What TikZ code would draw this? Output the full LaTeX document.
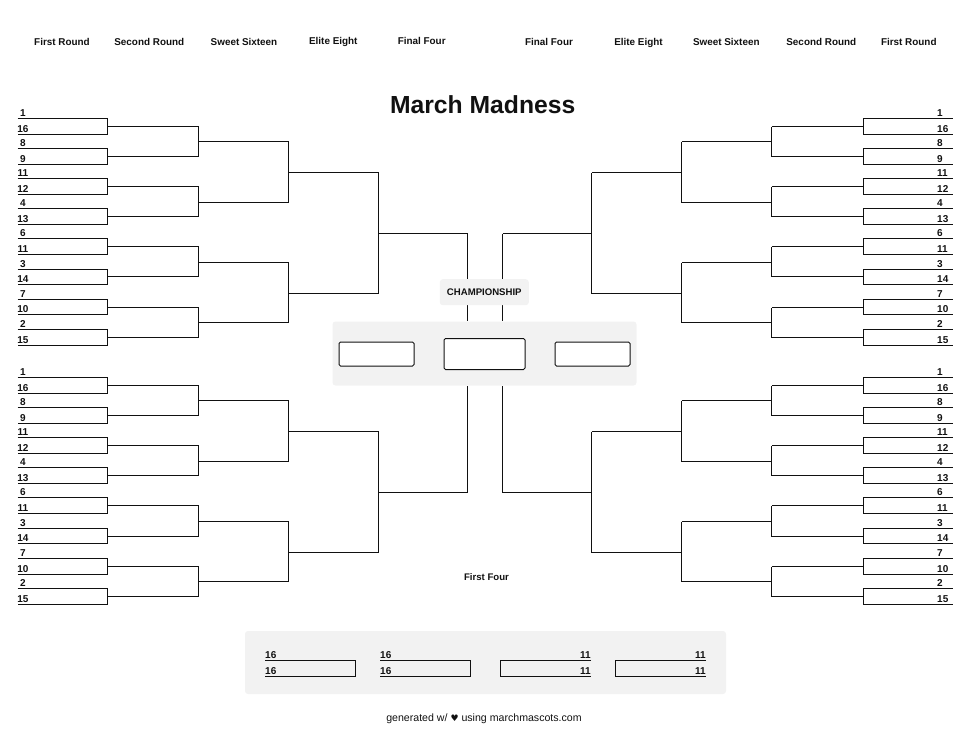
\documentclass[tikz,border=0pt]{standalone}
\usepackage{fontspec}
\setmainfont{Liberation Sans}
\newfontfamily\symfont{DejaVu Sans}
\definecolor{panelgrey}{HTML}{F2F2F2}
\definecolor{ink}{HTML}{111111}
\tikzset{
  br/.style={draw=ink, line width=1pt},
  seedlbl/.style={font=\bfseries\fontsize{10}{10}\selectfont, inner sep=0pt, text=ink},
  hdr/.style={font=\bfseries\fontsize{9.9}{10}\selectfont, inner sep=0pt, anchor=base, text=ink},
  panel/.style={fill=panelgrey, draw=none, rounded corners=3pt},
  slotbox/.style={fill=white, draw=ink, line width=1pt, rounded corners=1.5pt},
}
% #1 prefix, #2 top y, #3 sign (1 = left, -1 = right), #4 label x, #5 label anchor
\newcommand\myregion[5]{%
  \pgfmathsetmacro\xa{floor(485-#3*467.7)+0.5}%
  \pgfmathsetmacro\xb{floor(485-#3*378)+0.5}%
  \pgfmathsetmacro\xc{floor(485-#3*286.7)+0.5}%
  \pgfmathsetmacro\xd{floor(485-#3*196.7)+0.5}%
  \pgfmathsetmacro\xe{floor(485-#3*106.7)+0.5}%
  \pgfmathsetmacro\xf{floor(485-#3*17.7)+0.5}%
  \foreach \sa/\sb [count=\k from 0] in {1/16,8/9,11/12,4/13,6/11,3/14,7/10,2/15} {
    \pgfmathsetmacro\yt{floor(#2+30.15*\k)+0.5}
    \pgfmathsetmacro\yb{floor(#2+30.15*\k+15.8)+0.5}
    \pgfmathsetmacro\ym{floor(#2+30.15*\k+7.9)+0.5}
    \coordinate (#1g\k a) at (\xa,\yt);
    \coordinate (#1g\k b) at (\xb,\yt);
    \coordinate (#1g\k c) at (\xb,\yb);
    \coordinate (#1g\k d) at (\xa,\yb);
    \coordinate (#1m\k) at (\xb,\ym);
    \coordinate (#1n\k) at (\xc,\ym);
    \draw[br] (#1g\k a) -- (#1g\k b) -- (#1g\k c) -- (#1g\k d);
    \draw[br] (#1m\k) -- (#1n\k);
    \node[seedlbl, anchor=#5] (#1s\k a) at (#4,\yt-2.3) {\sa};
    \node[seedlbl, anchor=#5] (#1s\k b) at (#4,\yb-2.3) {\sb};
  }
  \foreach \j in {0,1,2,3} {
    \pgfmathsetmacro\ya{floor(#2+7.9+30.15*(2*\j))+0.5}
    \pgfmathsetmacro\yc{floor(#2+7.9+30.15*(2*\j+1))+0.5}
    \pgfmathsetmacro\ys{floor(#2+7.9+30.15*(2*\j+0.5)+0.5)+0.5}
    \coordinate (#1p\j a) at (\xc,\ya);
    \coordinate (#1p\j b) at (\xc,\yc);
    \coordinate (#1q\j a) at (\xc,\ys);
    \coordinate (#1q\j b) at (\xd,\ys);
    \draw[br] (#1p\j a) -- (#1p\j b);
    \draw[br] (#1q\j a) -- (#1q\j b);
  }
  \foreach \i in {0,1} {
    \pgfmathsetmacro\ya{floor(#2+7.9+30.15*(4*\i+0.5)+0.5)+0.5}
    \pgfmathsetmacro\yc{floor(#2+7.9+30.15*(4*\i+2.5)+0.5)+0.5}
    \pgfmathsetmacro\ys{floor(#2+7.9+30.15*(4*\i+1.5)+1)+0.5}
    \coordinate (#1r\i a) at (\xd,\ya);
    \coordinate (#1r\i b) at (\xd,\yc);
    \coordinate (#1e\i a) at (\xd,\ys);
    \coordinate (#1e\i b) at (\xe,\ys);
    \draw[br] (#1r\i a) -- (#1r\i b);
    \draw[br] (#1e\i a) -- (#1e\i b);
  }
  \pgfmathsetmacro\ya{floor(#2+7.9+30.15*1.5+1)+0.5}
  \pgfmathsetmacro\yc{floor(#2+7.9+30.15*5.5+1)+0.5}
  \pgfmathsetmacro\ys{floor(#2+7.9+30.15*3.5+1.5)+0.5}
  \coordinate (#1ta) at (\xe,\ya);
  \coordinate (#1tb) at (\xe,\yc);
  \coordinate (#1fa) at (\xe,\ys);
  \coordinate (#1fb) at (\xf,\ys);
  \draw[br] (#1ta) -- (#1tb);
  \draw[br] (#1fa) -- (#1fb);
}
\begin{document}
\begin{tikzpicture}[x=1pt,y=-1pt]
\useasboundingbox (0,0) rectangle (971,750);
% headers
\node[hdr] (h1) at (62,45) {First Round};
\node[hdr] (h2) at (149.3,45) {Second Round};
\node[hdr] (h3) at (244,45) {Sweet Sixteen};
\node[hdr] (h4) at (333.3,44.3) {Elite Eight};
\node[hdr] (h5) at (421.7,44.3) {Final Four};
\node[hdr] (h6) at (549,45) {Final Four};
\node[hdr] (h7) at (638.5,45) {Elite Eight};
\node[hdr] (h8) at (726.3,45) {Sweet Sixteen};
\node[hdr] (h9) at (821.3,45) {Second Round};
\node[hdr] (h10) at (908.8,45) {First Round};
% title
\node[font=\bfseries\fontsize{24.7}{26}\selectfont, inner sep=0pt, anchor=base, text=ink] (title) at (482.7,113.3) {March Madness};
% regions
\myregion{LA}{118.3}{1}{23}{base}
\myregion{LB}{377.4}{1}{23}{base}
\myregion{RA}{118.3}{-1}{937}{base west}
\myregion{RB}{377.4}{-1}{937}{base west}
% championship panel
\node[panel, minimum width=304pt, minimum height=64pt, inner sep=0pt] (champpanel) at (484.5,353.5) {};
\coordinate (LAdown) at (LAfb |- champpanel.north);
\coordinate (RAdown) at (RAfb |- champpanel.north);
\coordinate (LBup) at (LBfb |- champpanel.south);
\coordinate (RBup) at (RBfb |- champpanel.south);
\draw[br] (LAfb) -- (LAdown);
\draw[br] (RAfb) -- (RAdown);
\draw[br] (LBfb) -- (LBup);
\draw[br] (RBfb) -- (RBup);
\node[panel, minimum width=89pt, minimum height=26pt, inner sep=0pt, font=\bfseries\fontsize{9.6}{10}\selectfont, text=ink] (champlbl) at (484.3,292.2) {CHAMPIONSHIP};
\node[slotbox, minimum width=75pt, minimum height=24pt, inner sep=0pt] (slotL) at (376.5,354) {};
\node[slotbox, minimum width=81pt, minimum height=31pt, inner sep=0pt] (slotC) at (484.5,354) {};
\node[slotbox, minimum width=75pt, minimum height=24pt, inner sep=0pt] (slotR) at (592.5,354) {};
% first four
\node[font=\bfseries\fontsize{9.6}{10}\selectfont, inner sep=0pt, anchor=base, text=ink] (ffl) at (486.5,580.7) {First Four};
\node[panel, minimum width=481pt, minimum height=63pt, inner sep=0pt] (ffpanel) at (485.5,662.5) {};
\foreach \xl/\xr/\nm in {265/355.5/fa, 380/470.5/fb} {
  \coordinate (\nm1) at (\xl,660.5);
  \coordinate (\nm2) at (\xr,660.5);
  \coordinate (\nm3) at (\xr,676.5);
  \coordinate (\nm4) at (\xl,676.5);
  \draw[br] (\nm1) -- (\nm2) -- (\nm3) -- (\nm4);
  \node[seedlbl, anchor=base west] (\nm t) at (\xl,658.2) {16};
  \node[seedlbl, anchor=base west] (\nm b) at (\xl,674.2) {16};
}
\foreach \xl/\xr/\nm in {500.5/591/fc, 615.5/706/fd} {
  \coordinate (\nm1) at (\xr,660.5);
  \coordinate (\nm2) at (\xl,660.5);
  \coordinate (\nm3) at (\xl,676.5);
  \coordinate (\nm4) at (\xr,676.5);
  \draw[br] (\nm1) -- (\nm2) -- (\nm3) -- (\nm4);
  \node[seedlbl, anchor=base east] (\nm t) at (\xr,658.2) {11};
  \node[seedlbl, anchor=base east] (\nm b) at (\xr,674.2) {11};
}
% footer
\node[font=\fontsize{10.6}{12}\selectfont, inner sep=0pt, anchor=base, text=ink] (footer) at (484,721.5) {generated w/ {\symfont\fontsize{9}{10}\selectfont ♥} using marchmascots.com};
\end{tikzpicture}
\end{document}
